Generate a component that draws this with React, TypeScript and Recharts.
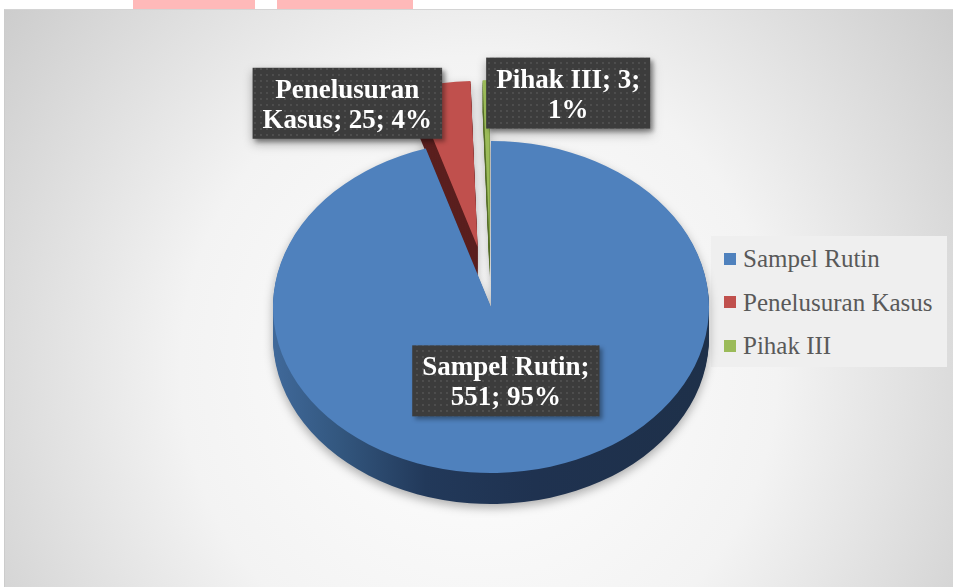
import React from 'react';
import { PieChart, Pie, Cell, Legend } from 'recharts';

const CATEGORIES = ['Sampel Rutin', 'Penelusuran Kasus', 'Pihak III'];
const VALUES = [551, 25, 3];

const COLORS = ['#4f81bd', '#c0504d', '#9bbb59'];
const SIDE_COLORS = ['url(#sideBlue)', '#5a1f1e', '#56702a'];
// how far each slice is pulled out of the pie (px, before tilting)
const EXPLODE = [0, 80, 80];

const CHART_W = 953;
const CHART_H = 587;
const CX = 491;
const CY = 307;
const RADIUS = 218;
const TILT = 0.7615;
const DEPTH = 31;

const SERIF = '"Liberation Serif", "Times New Roman", serif';
const LABEL_SIZE = 27;
const LABEL_LINE = 30;
const LABEL_PAD = 10;
const LABEL_MAX = 178;
const LABEL_LAYOUT = [
  { side: 'inside', r: 0.45, dy: 0 },
  { side: 'left', r: 1, dy: 20 },
  { side: 'right', r: 1, dy: 13 },
];

const data = CATEGORIES.map((name, i) => ({ name, value: VALUES[i] }));
const total = VALUES.reduce((s, v) => s + v, 0);
const midAngles = VALUES.map((v, i) => {
  const before = VALUES.slice(0, i).reduce((s, x) => s + x, 0);
  return 90 - (360 * (before + v / 2)) / total;
});
const centers = midAngles.map((a, i) => {
  const rad = (a * Math.PI) / 180;
  return { x: CX + EXPLODE[i] * Math.cos(rad), y: CY - EXPLODE[i] * Math.sin(rad) };
});
const depthSteps: number[] = [];
for (let d = DEPTH; d > 0; d -= 2) depthSteps.push(d);

const css = `
body { margin: 0; }
.recharts-pie-sector { transform-box: view-box; transform-origin: 0px ${CY}px; transform: scaleY(${TILT}); }
.recharts-surface { filter: drop-shadow(0px 4px 5px rgba(0,0,0,0.3)); }
`;

let ctx: CanvasRenderingContext2D | null = null;
const measure = (s: string) => {
  if (!ctx) ctx = document.createElement('canvas').getContext('2d');
  if (!ctx) return s.length * LABEL_SIZE * 0.5;
  ctx.font = `bold ${LABEL_SIZE}px ${SERIF}`;
  return ctx.measureText(s).width;
};

const wrapLabel = (text: string) => {
  const lines: string[] = [];
  let cur = '';
  text.split(' ').forEach((w) => {
    const test = cur ? `${cur} ${w}` : w;
    if (cur && measure(test) > LABEL_MAX) {
      lines.push(cur);
      cur = w;
    } else {
      cur = test;
    }
  });
  if (cur) lines.push(cur);
  return lines;
};

const renderLabel = (props: any) => {
  const { cx, cy, midAngle, outerRadius, index, name, value, percent } = props;
  const rad = (midAngle * Math.PI) / 180;
  const layout = LABEL_LAYOUT[index];
  const ox = cx + EXPLODE[index] * Math.cos(rad);
  const oy = cy - EXPLODE[index] * Math.sin(rad) * TILT;
  const px = ox + outerRadius * layout.r * Math.cos(rad);
  const py = oy - outerRadius * layout.r * Math.sin(rad) * TILT;

  const lines = wrapLabel(`${name}; ${value}; ${Math.round(percent * 100)}%`);
  const boxW = Math.max(...lines.map(measure)) + 2 * LABEL_PAD;
  const boxH = lines.length * LABEL_LINE + 11;
  let left = px - boxW / 2;
  if (layout.side === 'left') left = px - boxW + 1;
  if (layout.side === 'right') left = px;
  const top = py + layout.dy - boxH / 2;

  return (
    <g key={`label-${index}`}>
      <rect
        x={left}
        y={top}
        width={boxW}
        height={boxH}
        fill="url(#labelDots)"
        style={{ filter: 'drop-shadow(3px 3px 2px rgba(0,0,0,0.35))' }}
      />
      {lines.map((line, k) => (
        <text
          key={k}
          x={left + boxW / 2}
          y={top + 30 + k * LABEL_LINE}
          textAnchor="middle"
          fill="#ffffff"
          fontFamily={SERIF}
          fontWeight="bold"
          fontSize={LABEL_SIZE}
        >
          {line}
        </text>
      ))}
    </g>
  );
};

const renderLegend = (props: any) => {
  // every stacked pie reports its slices; keep one entry per category, in data order
  const seen = new Set<string>();
  const items = (props.payload || [])
    .filter((entry: any) => {
      if (!CATEGORIES.includes(entry.value) || seen.has(entry.value)) return false;
      seen.add(entry.value);
      return true;
    })
    .sort((a: any, b: any) => CATEGORIES.indexOf(a.value) - CATEGORIES.indexOf(b.value));
  return (
    <div
      style={{
        width: 236,
        height: 131,
        boxSizing: 'border-box',
        paddingTop: 1,
        background: '#efefef',
      }}
    >
      {items.map((entry: any) => (
        <div
          key={entry.value}
          style={{ height: 43.5, display: 'flex', alignItems: 'center', paddingLeft: 13 }}
        >
          <span
            style={{
              width: 12,
              height: 12,
              flex: 'none',
              marginRight: 7,
              background: COLORS[CATEGORIES.indexOf(entry.value)],
            }}
          />
          <span style={{ fontFamily: SERIF, fontSize: 25, color: '#595959', lineHeight: 1 }}>
            {entry.value}
          </span>
        </div>
      ))}
    </div>
  );
};

export default function App() {
  return (
    <div
      style={{
        position: 'relative',
        width: CHART_W,
        height: CHART_H,
        overflow: 'hidden',
        background: '#ffffff',
      }}
    >
      <style>{css}</style>
      <div style={{ position: 'absolute', left: 133, top: 0, width: 122, height: 9, background: '#ffb9b9' }} />
      <div style={{ position: 'absolute', left: 277, top: 0, width: 136, height: 9, background: '#ffb9b9' }} />
      <div
        style={{
          position: 'absolute',
          left: 4,
          top: 9,
          right: 0,
          bottom: 0,
          borderTop: '1px solid #d4d4d4',
          borderLeft: '1px solid #cccccc',
          background:
            'radial-gradient(ellipse 70% 120% at 50% 62%, #ffffff 0%, #f3f3f3 45%, #c2c2c2 100%)',
        }}
      />
      <div style={{ position: 'absolute', left: 0, top: 0 }}>
        <PieChart width={CHART_W} height={CHART_H} margin={{ top: 0, right: 0, bottom: 0, left: 0 }}>
          <defs>
            <pattern id="labelDots" width="6" height="6" patternUnits="userSpaceOnUse">
              <rect width="6" height="6" fill="#3c3c3c" />
              <circle cx="3" cy="3" r="0.9" fill="#555555" />
            </pattern>
            <linearGradient id="sideBlue" gradientUnits="userSpaceOnUse" x1={CX - RADIUS} y1="0" x2={CX + RADIUS} y2="0">
              <stop offset="0%" stopColor="#40699a" />
              <stop offset="15%" stopColor="#33577f" />
              <stop offset="35%" stopColor="#22395a" />
              <stop offset="60%" stopColor="#1f3250" />
              <stop offset="100%" stopColor="#1e3049" />
            </linearGradient>
          </defs>

          {depthSteps.flatMap((d) =>
            data.map((_, i) => (
              <Pie
                key={`side-${d}-${i}`}
                data={data}
                dataKey="value"
                nameKey="name"
                cx={centers[i].x}
                cy={centers[i].y + d / TILT}
                outerRadius={RADIUS}
                startAngle={90}
                endAngle={-270}
                stroke="none"
                legendType="none"
                isAnimationActive={false}
              >
                {data.map((__, j) => (
                  <Cell key={j} fill={j === i ? SIDE_COLORS[i] : 'none'} />
                ))}
              </Pie>
            ))
          )}

          {data.map((_, i) => (
            <Pie
              key={`top-${i}`}
              data={data}
              dataKey="value"
              nameKey="name"
              cx={centers[i].x}
              cy={centers[i].y}
              outerRadius={RADIUS}
              startAngle={90}
              endAngle={-270}
              stroke="none"
              legendType="none"
              isAnimationActive={false}
            >
              {data.map((__, j) => (
                <Cell key={j} fill={j === i ? COLORS[i] : 'none'} />
              ))}
            </Pie>
          ))}

          <Pie
            data={data}
            dataKey="value"
            nameKey="name"
            cx={CX}
            cy={CY}
            outerRadius={RADIUS}
            startAngle={90}
            endAngle={-270}
            stroke="none"
            label={renderLabel}
            labelLine={false}
            isAnimationActive={false}
          >
            {data.map((_, j) => (
              <Cell key={j} fill={COLORS[j]} fillOpacity={0} />
            ))}
          </Pie>

          <Legend
            layout="vertical"
            align="right"
            verticalAlign="top"
            width={236}
            content={renderLegend}
            wrapperStyle={{ left: 711, top: 236 }}
          />
        </PieChart>
      </div>
    </div>
  );
}
